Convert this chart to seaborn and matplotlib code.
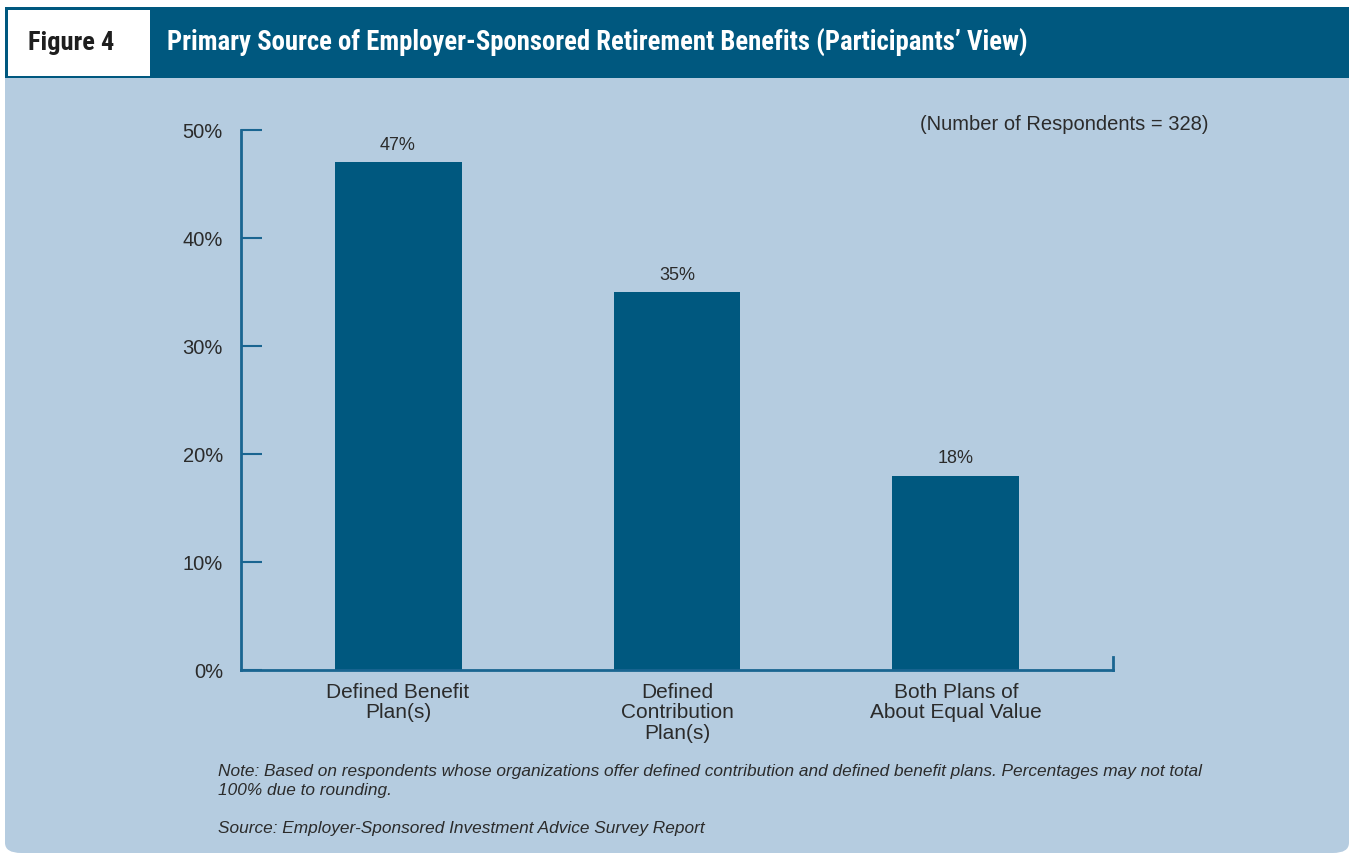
import matplotlib
matplotlib.use("Agg")
import matplotlib.pyplot as plt
from matplotlib.patches import Rectangle, FancyBboxPatch
import seaborn as sns
import pandas as pd

# Survey results: primary source of employer-sponsored retirement benefits
categories = ["Defined Benefit\nPlan(s)", "Defined\nContribution\nPlan(s)", "Both Plans of\nAbout Equal Value"]
shares = [47, 35, 18]
y_ticks = [0, 10, 20, 30, 40, 50]
y_tick_labels = ["0%", "10%", "20%", "30%", "40%", "50%"]

title = "Primary Source of Employer-Sponsored Retirement Benefits (Participants\u2019 View)"
figure_label = "Figure 4"
respondents_note = "(Number of Respondents = 328)"
note_text = ("Note: Based on respondents whose organizations offer defined contribution and defined benefit plans. "
             "Percentages may not total\n100% due to rounding.")
source_text = "Source: Employer-Sponsored Investment Advice Survey Report"

DARK_BLUE = "#00587f"
AXIS_BLUE = "#1a6591"
PANEL = "#b5cce0"
TEXT = "#2b2b2b"

sns.set_theme(style="white")
plt.rcParams["font.family"] = ["Liberation Sans", "DejaVu Sans"]
HEADER_FONT = ["Roboto Condensed", "Liberation Sans", "DejaVu Sans"]

W, H = 1351, 855
fig = plt.figure(figsize=(W / 100, H / 100), dpi=100)
fig.patch.set_facecolor("white")


def fx(px):
    return px / W


def fy(py):
    return 1 - py / H


# Light panel with rounded bottom corners
panel = FancyBboxPatch((fx(5), fy(853)), fx(1349) - fx(5), fy(60) - fy(853),
                       boxstyle="round,pad=0,rounding_size=0.012",
                       transform=fig.transFigure, facecolor=PANEL, edgecolor="none", zorder=-3)
fig.patches.append(panel)

# Header band
fig.patches.append(Rectangle((fx(5), fy(78)), fx(1349) - fx(5), fy(7) - fy(78),
                             transform=fig.transFigure, facecolor=DARK_BLUE, edgecolor="none", zorder=-2))
fig.patches.append(Rectangle((fx(8), fy(76)), fx(150) - fx(8), fy(10) - fy(76),
                             transform=fig.transFigure, facecolor="white", edgecolor="none", zorder=-1))
fig.text(fx(71), fy(43), figure_label, ha="center", va="center", fontsize=19,
         fontweight="bold", color="#1e1e1e", family=HEADER_FONT, zorder=3)
fig.text(fx(167), fy(43), title, ha="left", va="center", fontsize=19.3,
         fontweight="bold", color="white", family=HEADER_FONT, zorder=3)

# Bar chart
ax = fig.add_axes([fx(241), fy(670), fx(1113) - fx(241), fy(130) - fy(670)])
ax.set_zorder(2)
ax.set_facecolor("none")
df = pd.DataFrame({"category": categories, "share": shares})
sns.barplot(data=df, x="category", y="share", color=DARK_BLUE, saturation=1,
            width=0.455, ax=ax, zorder=2)
for p in ax.patches:
    p.set_edgecolor("none")

ax.bar_label(ax.containers[0], labels=[f"{v}%" for v in shares], padding=6,
             fontsize=13, color=TEXT)

ax.set_xlim(-0.563, 2.563)
ax.set_ylim(0, 50)
ax.set_yticks(y_ticks)
ax.set_yticklabels(y_tick_labels)
ax.set_xlabel("")
ax.set_ylabel("")

ax.spines["top"].set_visible(False)
for side in ["left", "bottom", "right"]:
    ax.spines[side].set_visible(True)
    ax.spines[side].set_color(AXIS_BLUE)
    ax.spines[side].set_linewidth(2)
ax.spines["right"].set_bounds(0, 1.2)

ax.tick_params(axis="y", direction="in", length=15, width=1.5, color=AXIS_BLUE,
               pad=13, labelsize=14.5, labelcolor=TEXT, left=True)
ax.tick_params(axis="x", length=0, pad=9, labelsize=15, labelcolor=TEXT)
for lbl in ax.get_xticklabels():
    lbl.set_linespacing(1.12)
    lbl.set_verticalalignment("top")
ax.grid(False)

fig.text(fx(1208), fy(125), respondents_note, ha="right", va="center", fontsize=14.5, color=TEXT)
fig.text(fx(218), fy(764), note_text, ha="left", va="top", fontsize=12.4,
         style="italic", color=TEXT, linespacing=1.32)
fig.text(fx(218), fy(821), source_text, ha="left", va="top", fontsize=12.4,
         style="italic", color=TEXT)

fig.savefig("out.png", dpi=100, facecolor="white")
